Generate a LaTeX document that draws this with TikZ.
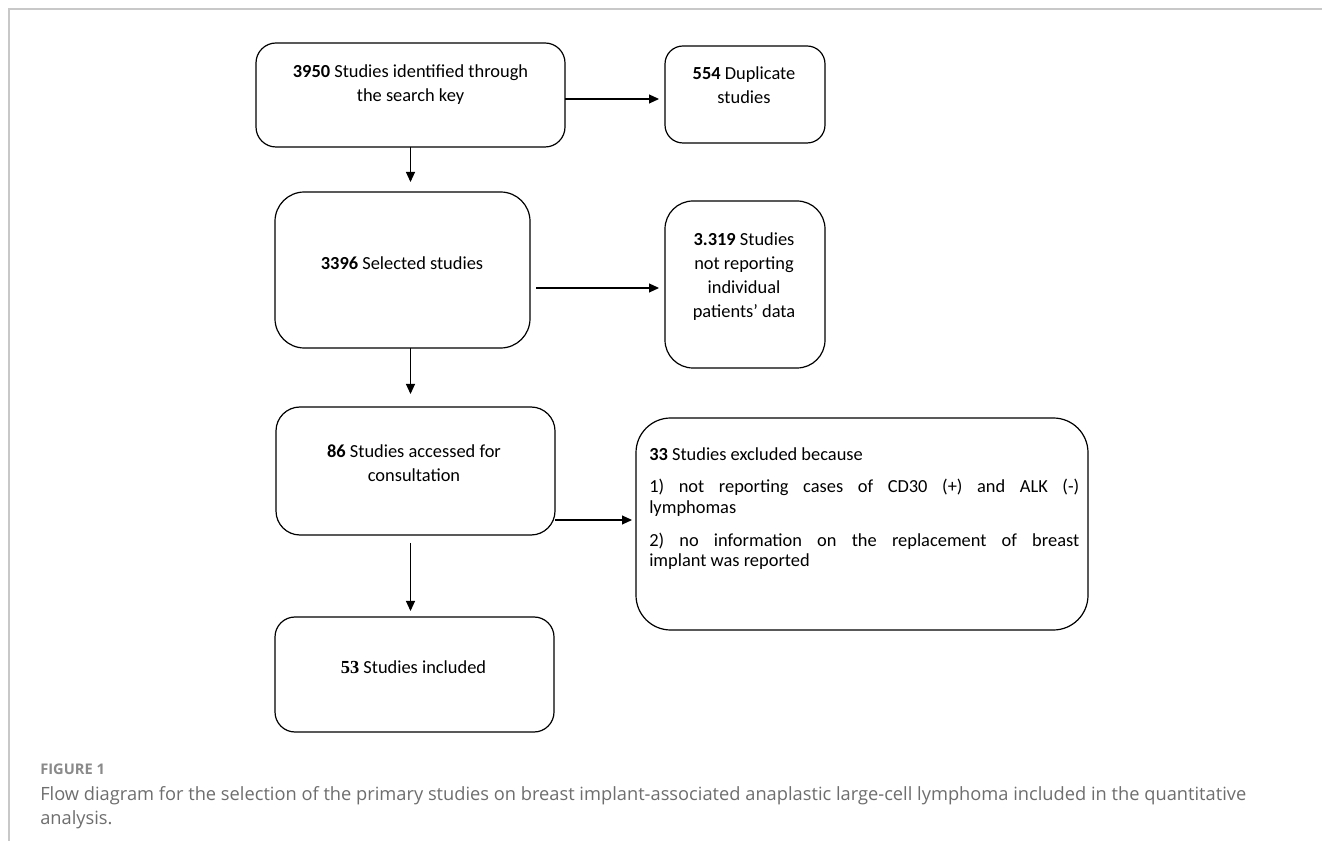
\documentclass[tikz,border=0pt]{standalone}
\usepackage{fontspec}
\setmainfont{Carlito}
\newfontfamily\capfont{Open Sans}
\newfontfamily\numserif{Liberation Serif}
\usetikzlibrary{arrows.meta}
\definecolor{framegray}{HTML}{C8C8C8}
\definecolor{capgray}{HTML}{6E6E6E}
\definecolor{figgray}{HTML}{8A8A8A}
\begin{document}
\begin{tikzpicture}[x=0.75pt,y=-0.75pt,
  box/.style={draw, line width=0.9pt, inner sep=0pt, outer sep=0pt},
  boxtext/.style={font=\fontsize{13.8}{18}\selectfont, align=center, inner sep=0pt},
  arr/.style={line width=0.8pt, -{Triangle[length=7.5pt,width=6.75pt]}},
  captext/.style={anchor=base west, inner sep=0pt, text=capgray, font=\capfont\fontsize{13.7}{18}\selectfont}
  ]
\useasboundingbox (0,0) rectangle (1322,841);
\fill[white] (0,0) rectangle (1322,841);
% frame
\draw[framegray, line width=1.2pt] (1322,9) -- (9,9) -- (9,841);

% boxes
\node[box, rounded corners=15pt, minimum width=231.75pt, minimum height=78pt] (b1) at (410.5,95) {};
\node[box, rounded corners=13.5pt, minimum width=120pt, minimum height=72.75pt] (b2) at (745,94.5) {};
\node[box, rounded corners=22pt, minimum width=191.25pt, minimum height=117pt] (b3) at (402.5,270) {};
\node[box, rounded corners=21pt, minimum width=120pt, minimum height=125.25pt] (b4) at (745,284.5) {};
\node[box, rounded corners=18pt, minimum width=209.25pt, minimum height=96pt] (b5) at (415.5,471) {};
\node[box, rounded corners=26pt, minimum width=339pt, minimum height=159pt] (b6) at (862,524) {};
\node[box, rounded corners=15pt, minimum width=209.25pt, minimum height=86.25pt] (b7) at (414.5,674.5) {};

% texts
\node[boxtext] (t1) at (410.5,85) {\textbf{3950} Studies identified through\\the search key};
\node[boxtext] (t2) at (744,85.5) {\textbf{554} Duplicate\\studies};
\node[boxtext] (t3) at (402,263) {\textbf{3396} Selected studies};
\node[boxtext] (t4) at (744,277) {\textbf{3.319} Studies\\not reporting\\individual\\patients’ data};
\node[boxtext] (t5) at (414,463) {\textbf{86} Studies accessed for\\consultation};
\node[boxtext] (t7) at (413.5,667) {{\numserif\bfseries 53} Studies included};
\node[anchor=north west, inner sep=0pt, text width=322.5pt, align=justify,
      font=\fontsize{13.8}{15.5}\selectfont] (t6) at (649,447)
  {\textbf{33} Studies excluded because\\[9pt]
   1) not reporting cases of CD30 (+) and ALK (-)\linebreak lymphomas\\[9pt]
   2) no information on the replacement of breast\linebreak implant was reported};

% arrows
\draw[arr, shorten >=4.5pt] ([yshift=-3pt]b1.east) -- ([yshift=-3pt]b1.east -| b2.west);
\draw[arr, shorten >=7.5pt] (b1.south) -- (b1.south |- b3.north);
\draw[arr, shorten <=4.5pt, shorten >=4.5pt] ([yshift=-13.5pt]b3.east) -- ([yshift=-13.5pt]b3.east -| b4.west);
\draw[arr, shorten >=9.75pt] (b1.south |- b3.south) -- (b1.south |- b5.north);
\draw[arr, shorten >=3pt] ([yshift=-36.75pt]b5.east) -- ([yshift=-36.75pt]b5.east -| b6.west);
\draw[arr, shorten <=6pt, shorten >=4.5pt] (b1.south |- b5.south) -- (b1.south |- b7.north);

% caption
\node[anchor=base west, inner sep=0pt, text=figgray, font=\capfont\bfseries\fontsize{11}{12}\selectfont] (fig) at (40,774) {FIGURE 1};
\node[captext] (cap1) at (40,800) {Flow diagram for the selection of the primary studies on breast implant-associated anaplastic large-cell lymphoma included in the quantitative};
\node[captext] (cap2) at (40,824) {analysis.};
\end{tikzpicture}
\end{document}
